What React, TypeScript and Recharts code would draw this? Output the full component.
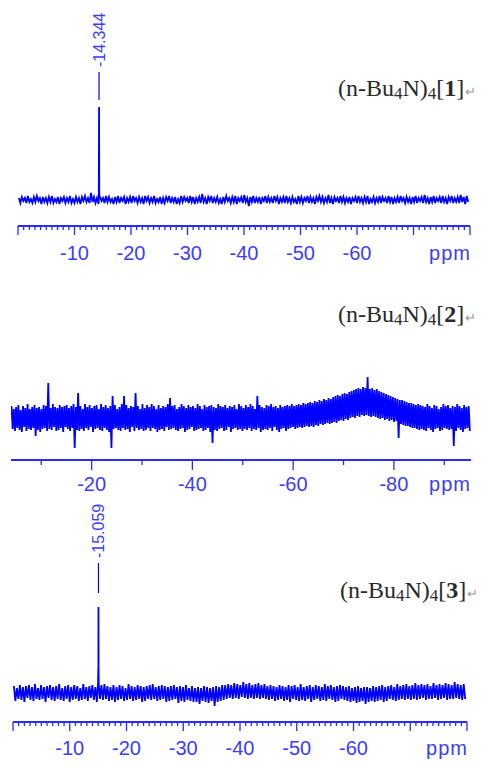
import React from 'react'
import { LineChart, Line, XAxis, YAxis, ReferenceLine } from 'recharts'

// noise traces, one value per grid step (intensity in px-like units)
const noise1 = [
  2, -3, 3, -1, 2, -3, 4, -2, 1, -3, 3, -2, 4, -1, 2, -4, 3, -2, 2, -3,
  3, -2, 4, -3, 1, -2, 3, -4, 2, -1, 3, -3, 2, -2, 4, -3, 1, -3, 3, -2,
  2, -4, 3, -1, 4, -2, 2, -3, 7, -2, 3, -3, 2, -4, 3, -1, 2, -3, 4, -2,
  3, -2, 1, -4, 3, -2, 4, -3, 2, -1, 3, -4, 2, -2, 3, -3, 4, -1, 2, -3,
  3, -2, 2, -4, 4, -1, 3, -3, 2, -2, 4, -3, 1, -2, 3, -4, 2, -3, 3, -1,
  4, -3, 2, -2, 3, -4, 1, -3, 4, -2, 3, -1, 2, -3, 4, -2, 3, -4, 2, -2,
  3, -3, 6, -2, 2, -4, 3, -1, 4, -3, 2, -2, 3, -3, 1, -4, 3, -2, 4, -1,
  2, -3, 3, -2, 4, -4, 2, -1, 3, -3, 5, -2, 2, -6, 3, -2, 4, -3, 2, -2,
  3, -4, 2, -1, 4, -3, 3, -2, 2, -3, 4, -1, 3, -4, 2, -2, 3, -3, 4, -2,
  2, -3, 3, -2, 1, -4, 4, -2, 3, -3, 2, -1, 4, -3, 3, -2, 2, -4, 3, -1,
  4, -2, 3, -3, 2, -2, 5, -3, 2, -4, 3, -1, 2, -3, 4, -2, 3, -3, 2, -2,
  3, -4, 2, -1, 3, -3, 4, -2, 2, -3, 3, -2, 4, -4, 1, -2, 3, -3, 2, -2,
  4, -3, 3, -1, 2, -3, 4, -2, 3, -4, 2, -2, 3, -3, 4, -1, 2, -3, 3, -2,
  2, -4, 3, -2, 4, -3, 2, -1, 3, -3, 5, -2, 2, -4, 3, -2, 4, -3, 2, -1,
  3, -3, 4, -2, 2, -4, 3, -1, 4, -3, 2, -2, 3, -3, 5, -2, 3, -4, 4, -2,
]
const peak1Ppm = [-14.3, -14.344, -14.39]
const peak1Val = [3, 93, 2]

const noise2 = [
  12, -11, 9, -13, 11, -10, 13, -12, 8, -14, 12, -9, 10, -13, 14, -11, 9, -12, 11, -10,
  13, -18, 10, -12, 11, -14, 9, -11, 13, -10, 12, -13, 35, -11, 10, -12, 14, -9, 11, -13,
  10, -12, 13, -10, 11, -14, 12, -9, 13, -11, 10, -13, 12, -10, 14, -30, 11, -12, 25, -13,
  12, -11, 9, -13, 14, -10, 11, -12, 13, -9, 10, -14, 12, -11, 13, -10, 9, -12, 14, -13,
  11, -10, 13, -12, 10, -14, 12, -30, 22, -11, 13, -10, 9, -12, 11, -13, 14, -10, 22, -12,
  13, -11, 10, -14, 12, -9, 11, -13, 25, -10, 12, -12, 9, -11, 14, -13, 10, -12, 13, -10,
  11, -13, 14, -10, 12, -11, 9, -14, 13, -12, 10, -11, 12, -13, 11, -9, 14, -12, 20, -11,
  12, -10, 13, -12, 9, -13, 11, -11, 14, -10, 12, -14, 10, -12, 13, -11, 11, -9, 12, -13,
  10, -12, 14, -11, 12, -10, 9, -13, 13, -12, 11, -10, 12, -14, 13, -25, 11, -12, 10, -13,
  14, -11, 12, -10, 11, -13, 13, -12, 10, -9, 12, -14, 11, -11, 13, -10, 9, -12, 14, -11,
  12, -13, 10, -11, 13, -12, 11, -10, 14, -13, 12, -11, 9, -12, 22, -10, 13, -14, 11, -12,
  10, -11, 13, -12, 12, -10, 14, -13, 11, -9, 12, -12, 10, -14, 13, -11, 11, -10, 12, -13,
  13, -11, 12, -10, 14, -9, 12, -11, 13, -10, 14, -9, 13, -10, 15, -9, 14, -8, 15, -9,
  16, -8, 15, -9, 17, -7, 16, -8, 18, -6, 17, -7, 19, -6, 18, -5, 20, -6, 19, -5,
  21, -4, 22, -5, 23, -3, 22, -2, 24, -3, 25, -1, 24, -2, 26, 0, 27, 1, 28, 0,
  29, 2, 30, 1, 29, 3, 31, 2, 30, 3, 41, 2, 29, 1, 30, 2, 28, 1, 29, 0,
  27, -1, 26, 0, 25, -2, 24, -1, 23, -3, 22, -2, 21, -4, 20, -3, 19, -20, 18, -6,
  18, -7, 17, -8, 16, -8, 15, -9, 15, -10, 14, -10, 13, -11, 14, -12, 13, -11, 12, -12,
  11, -13, 14, -10, 12, -12, 10, -14, 13, -11, 12, -10, 9, -13, 11, -12, 14, -10, 12, -11,
  13, -12, 10, -11, 12, -28, 11, -13, 14, -10, 12, -12, 10, -14, 13, -11, 11, -10, 12, -13,
]

const noise3 = [
  7, -8, 5, -6, 8, -7, 6, -9, 7, -5, 8, -7, 6, -8, 9, -6, 5, -7, 8, -6,
  6, -9, 7, -5, 8, -7, 6, -8, 7, -6, 9, -7, 5, -8, 7, -6, 8, -9, 6, -7,
  8, -6, 7, -8, 5, -7, 9, -6, 6, -8, 7, -5, 8, -7, 6, -9, 7, -6, 8, -7,
  9, -6, 7, -8, 6, -7, 8, -9, 6, -7, 8, -6, 7, -8, 5, -7, 9, -6, 7, -8,
  6, -7, 8, -6, 7, -9, 6, -8, 7, -6, 8, -7, 9, -6, 6, -8, 7, -7, 8, -6,
  7, -9, 6, -8, 7, -7, 8, -6, 6, -10, 7, -8, 6, -9, 8, -7, 5, -8, 7, -9,
  5, -9, 6, -11, 5, -8, 7, -9, 6, -10, 5, -8, 6, -13, 7, -9, 6, -8, 8, -7,
  8, -6, 9, -5, 8, -6, 10, -5, 9, -6, 8, -4, 11, -5, 9, -6, 10, -5, 8, -6,
  9, -5, 10, -6, 8, -5, 9, -6, 7, -7, 8, -6, 7, -8, 6, -7, 8, -6, 7, -8,
  6, -7, 8, -9, 7, -6, 8, -7, 6, -8, 9, -7, 6, -8, 7, -6, 8, -9, 6, -7,
  8, -6, 7, -8, 6, -7, 9, -8, 7, -6, 8, -7, 6, -9, 7, -8, 8, -6, 7, -7,
  6, -8, 7, -9, 5, -8, 6, -10, 7, -9, 5, -8, 6, -11, 6, -9, 5, -8, 7, -9,
  6, -8, 7, -7, 8, -9, 6, -8, 7, -6, 8, -7, 6, -8, 9, -7, 7, -6, 8, -7,
  9, -6, 7, -7, 8, -6, 10, -7, 8, -6, 9, -5, 8, -7, 9, -6, 7, -6, 10, -5,
  8, -7, 9, -6, 8, -5, 10, -7, 9, -6, 8, -6, 11, -5, 9, -6, 8, -7, 9, -6,
]
const peak3Ppm = [-14.99, -15.03, -15.059, -15.09, -15.12]
const peak3Val = [10, 24, 86, 20, 8]

const ticks13 = Array.from({ length: 81 }, (_, i) => -i)
const ticks2 = [-10, -20, -30, -40, -50, -60, -70, -80, -90, -95.3]

const BLUE = '#0000ff'
const AXIS = '#2b2bff'
const TXT = '#3c3cff'
const SANS = '"Liberation Sans", Arial, sans-serif'

function build(noise: number[], start: number, step: number, pp: number[] = [], pv: number[] = []) {
  const rows = noise.map((v, i) => ({ ppm: start - i * step, v }))
  pp.forEach((p, i) => rows.push({ ppm: p, v: pv[i] }))
  return rows.sort((a, b) => b.ppm - a.ppm)
}

const data1 = build(noise1, -0.15, 0.266, peak1Ppm, peak1Val)
const data2 = build(noise2, -4.1, 0.228)
const data3 = build(noise3, -0.15, 0.266, peak3Ppm, peak3Val)

const mkTick13 = (dy: number) => (props: any) => {
  const { x, y, payload } = props
  const v = payload.value
  const major = v % 10 === 0
  return (
    <g>
      <line x1={x} x2={x} y1={y} y2={y + (major ? 9 : 4)} stroke={AXIS} strokeWidth={1.3} />
      {major && v < 0 && v > -70 && (
        <text x={x} y={y + dy} textAnchor="middle" fill={TXT} fontSize={20} fontFamily={SANS}>{v}</text>
      )}
      {v === -80 && (
        <text x={x + 1} y={y + dy} textAnchor="end" fill={TXT} fontSize={20} fontFamily={SANS} letterSpacing={1}>ppm</text>
      )}
    </g>
  )
}

const tick2 = (props: any) => {
  const { x, y, payload } = props
  const v = payload.value
  if (v < -94) {
    return (
      <text x={x} y={y + 31} textAnchor="end" fill={TXT} fontSize={20} fontFamily={SANS} letterSpacing={1}>ppm</text>
    )
  }
  const major = v % 20 === 0
  return (
    <g>
      <line x1={x} x2={x} y1={y} y2={y + (major ? 10 : 5)} stroke={AXIS} strokeWidth={1.3} />
      {major && (
        <text x={x} y={y + 31} textAnchor="middle" fill={TXT} fontSize={20} fontFamily={SANS}>{v}</text>
      )}
    </g>
  )
}

const PeakLabel = (props: any) => {
  const { viewBox, text } = props
  if (!viewBox) return null
  const x = viewBox.x + 6
  const y = viewBox.y - 5
  return (
    <text x={x} y={y} transform={`rotate(-90 ${x} ${y})`} fill={TXT} fontSize={16} fontFamily={SANS}>{text}</text>
  )
}

function Compound({ x, y, n }: { x: number; y: number; n: string }) {
  return (
    <text x={x} y={y} fontFamily='"Liberation Serif", "Times New Roman", serif' fontSize={24} fill="#2a2a2a">
      (n-Bu<tspan fontSize={17} dy={3}>4</tspan>
      <tspan dy={-3}>N)</tspan>
      <tspan fontSize={17} dy={3}>4</tspan>
      <tspan dy={-3}>[</tspan>
      <tspan fontWeight="bold">{n}</tspan>]
      <tspan fontSize={13} fill="#9a9a9a" dx={1}>↵</tspan>
    </text>
  )
}

export default function App() {
  return (
    <div style={{ position: 'absolute', left: 0, top: 0, width: 481, height: 764, background: '#fff' }}>
      <LineChart width={481} height={270} data={data1} margin={{ top: 0, right: 11, bottom: 0, left: 18 }}>
        <XAxis dataKey="ppm" type="number" domain={[-80, 0]} reversed allowDataOverflow ticks={ticks13} interval={0}
          tickSize={0} tickMargin={0} tickLine={false} height={44} axisLine={{ stroke: AXIS, strokeWidth: 2 }} tick={mkTick13(34)} />
        <YAxis hide width={0} domain={[-26, 200]} allowDataOverflow />
        <ReferenceLine segment={[{ x: -14.344, y: 100 }, { x: -14.344, y: 128 }]} stroke={BLUE} strokeWidth={1.2}
          label={<PeakLabel text="-14.344" />} />
        <Line type="linear" dataKey="v" stroke={BLUE} strokeWidth={1.8} dot={false} isAnimationActive={false} />
      </LineChart>
      <LineChart width={481} height={230} data={data2} margin={{ top: 0, right: 10, bottom: 0, left: 11 }}>
        <XAxis dataKey="ppm" type="number" domain={[-95.3, -4]} reversed allowDataOverflow ticks={ticks2} interval={0}
          tickSize={0} tickMargin={0} tickLine={false} height={40} axisLine={{ stroke: AXIS, strokeWidth: 2 }} tick={tick2} />
        <YAxis hide width={0} domain={[-42, 148]} allowDataOverflow />
        <Line type="linear" dataKey="v" stroke={BLUE} strokeWidth={1.8} dot={false} isAnimationActive={false} />
      </LineChart>
      <LineChart width={481} height={264} data={data3} margin={{ top: 0, right: 14, bottom: 0, left: 13 }}>
        <XAxis dataKey="ppm" type="number" domain={[-80, 0]} reversed allowDataOverflow ticks={ticks13} interval={0}
          tickSize={0} tickMargin={0} tickLine={false} height={42} axisLine={{ stroke: AXIS, strokeWidth: 2 }} tick={mkTick13(33)} />
        <YAxis hide width={0} domain={[-29, 193]} allowDataOverflow />
        <ReferenceLine segment={[{ x: -15.059, y: 100 }, { x: -15.059, y: 130 }]} stroke={BLUE} strokeWidth={1.2}
          label={<PeakLabel text="-15.059" />} />
        <Line type="linear" dataKey="v" stroke={BLUE} strokeWidth={1.8} dot={false} isAnimationActive={false} />
      </LineChart>
      <svg width={481} height={764} style={{ position: 'absolute', left: 0, top: 0, pointerEvents: 'none' }}>
        <Compound x={338} y={96} n="1" />
        <Compound x={338} y={322} n="2" />
        <Compound x={340} y={598} n="3" />
      </svg>
    </div>
  )
}
